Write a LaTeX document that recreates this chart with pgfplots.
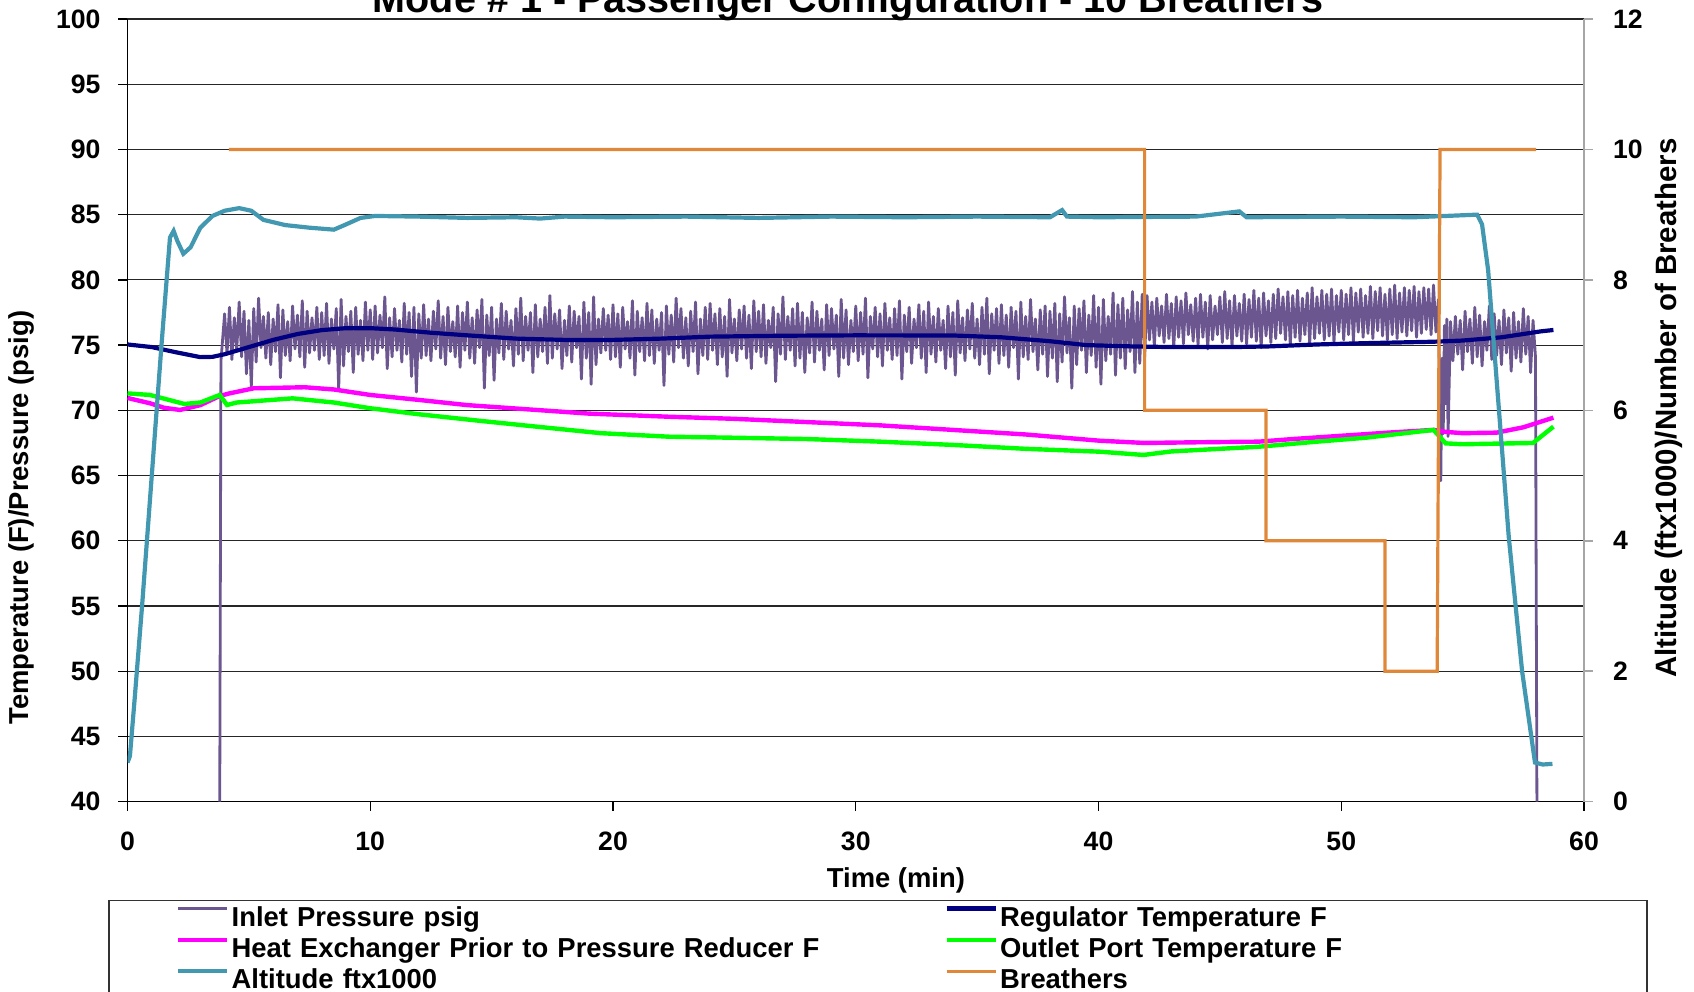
\documentclass[border=0pt]{standalone}
\usepackage{fontspec}
\setmainfont{Liberation Sans}
\usepackage{pgfplots}
\pgfplotsset{compat=1.18}
\usetikzlibrary{calc}

\definecolor{inlet}{RGB}{107,86,144}
\definecolor{regul}{RGB}{0,0,128}
\definecolor{heatx}{RGB}{255,0,255}
\definecolor{outlet}{RGB}{0,255,0}
\definecolor{alti}{RGB}{66,152,176}
\definecolor{breath}{RGB}{224,136,58}

\newcommand{\tickfont}{\fontsize{13.3}{15}\selectfont\bfseries}
\newcommand{\labfont}{\fontsize{13.7}{15}\selectfont\bfseries}

\pgfplotsset{
  every axis/.append style={
    scale only axis, width=728.25pt, height=391.35pt,
    xmin=0, xmax=60,
    tick align=outside, major tick length=4.5pt,
    ticklabel style={font=\tickfont},
    label style={font=\labfont},
    /pgf/number format/assume math mode=true,
  },
  legend image code/.code={\draw[#1] (0pt,4.5pt) -- (24.5pt,4.5pt);},
}

\begin{document}
\begin{tikzpicture}
\begin{axis}[
  axis x line*=bottom, axis y line*=left,
  axis line style={black, line width=0.7pt, -},
  tick style={black, line width=0.7pt},
  ymin=40, ymax=100, ytick={40,45,...,100},
  xtick={0,10,...,60},
  yticklabel style={xshift=-5.5pt},
  xticklabel style={yshift=-7pt},
  ymajorgrids, major grid style={black!85, line width=0.6pt},
  xlabel={Time (min)},
  ylabel={Temperature (F)/Pressure (psig)},
  xlabel style={at={(axis description cs:0.5276,-0.1005)}, anchor=center},
  ylabel style={at={(axis description cs:-0.0725,0.363)}, anchor=center},
  legend columns=2,
  legend cell align=left,
  legend style={at={(axis description cs:0.0332,-0.1328)}, anchor=north west,
    draw=none, fill=none, inner sep=0pt, row sep=4.2pt,
    font=\fontsize{13.7}{16}\selectfont\bfseries,
    nodes={inner sep=0pt, text width=356.5pt, align=left, text height=10pt, text depth=1.5pt},
    /tikz/every odd column/.append style={column sep=1pt}},
]
\coordinate (bl) at (rel axis cs:0,0);
\coordinate (tr) at (rel axis cs:1,1);

% Inlet Pressure psig
\addplot[inlet, line width=1.4pt, line join=round] coordinates {
(3.8,40)(3.85,73.8)
(4.0,77.4)(4.1,74.3)(4.2,77.9)(4.3,73.9)(4.4,77.1)(4.5,74.6)(4.6,78.3)(4.7,74.1)(4.8,77.6)(4.9,72.8)
(5.0,76.9)(5.1,71.8)(5.2,77.8)(5.3,73.7)(5.4,78.6)(5.5,74.8)(5.6,77.2)(5.7,74.0)(5.8,77.5)(5.9,73.5)
(6.0,77.0)(6.1,74.5)(6.2,78.1)(6.3,72.5)(6.4,77.7)(6.5,74.2)(6.6,76.8)(6.7,73.8)(6.8,78.0)(6.9,74.7)
(7.0,77.3)(7.1,74.1)(7.2,78.4)(7.3,73.3)(7.4,77.6)(7.5,74.4)(7.6,77.1)(7.7,74.6)(7.8,77.9)(7.9,73.9)
(8.0,77.5)(8.1,74.2)(8.2,78.2)(8.3,73.6)(8.4,77.0)(8.5,74.7)(8.6,77.8)(8.7,71.6)(8.8,78.5)(8.9,73.4)
(9.0,77.2)(9.1,74.5)(9.2,77.6)(9.3,72.9)(9.4,77.9)(9.5,74.3)(9.6,76.9)(9.7,73.8)(9.8,78.3)(9.9,74.6)
(10.0,77.7)(10.1,73.9)(10.2,78.0)(10.3,74.4)(10.4,77.3)(10.5,74.8)(10.6,78.7)(10.7,73.2)(10.8,77.1)(10.9,74.1)
(11.0,77.8)(11.1,74.6)(11.2,76.9)(11.3,73.7)(11.4,78.2)(11.5,74.3)(11.6,77.5)(11.7,72.6)(11.8,77.9)(11.9,71.4)
(12.0,77.4)(12.1,74.0)(12.2,78.1)(12.3,74.2)(12.4,77.0)(12.5,73.8)(12.6,77.6)(12.7,74.7)(12.8,78.4)(12.9,74.0)
(13.0,77.2)(13.1,73.5)(13.2,77.9)(13.3,74.5)(13.4,76.8)(13.5,74.1)(13.6,78.0)(13.7,73.3)(13.8,77.5)(13.9,74.6)
(14.0,78.3)(14.1,74.0)(14.2,77.1)(14.3,73.6)(14.4,77.7)(14.5,74.8)(14.6,78.5)(14.7,71.7)(14.8,77.3)(14.9,74.2)
(15.0,77.9)(15.1,72.3)(15.2,77.0)(15.3,74.4)(15.4,78.2)(15.5,73.9)(15.6,77.6)(15.7,74.7)(15.8,76.9)(15.9,73.4)
(16.0,77.8)(16.1,74.3)(16.2,78.6)(16.3,73.8)(16.4,77.2)(16.5,74.6)(16.6,77.5)(16.7,72.9)(16.8,78.1)(16.9,74.1)
(17.0,77.0)(17.1,74.5)(17.2,77.9)(17.3,73.6)(17.4,78.8)(17.5,74.0)(17.6,77.4)(17.7,74.7)(17.8,77.7)(17.9,73.2)
(18.0,76.9)(18.1,74.2)(18.2,78.0)(18.3,73.7)(18.4,77.6)(18.5,74.8)(18.6,77.2)(18.7,72.4)(18.8,78.3)(18.9,74.0)
(19.0,77.5)(19.1,72.0)(19.2,78.7)(19.3,73.5)(19.4,77.0)(19.5,74.4)(19.6,77.8)(19.7,74.6)(19.8,77.3)(19.9,73.9)
(20.0,78.1)(20.1,74.1)(20.2,77.4)(20.3,73.3)(20.4,77.9)(20.5,74.7)(20.6,76.8)(20.7,74.0)(20.8,78.4)(20.9,72.7)
(21.0,77.6)(21.1,74.5)(21.2,77.1)(21.3,73.8)(21.4,78.2)(21.5,74.2)(21.6,77.7)(21.7,73.6)(21.8,77.0)(21.9,74.6)
(22.0,77.5)(22.1,71.9)(22.2,78.0)(22.3,74.3)(22.4,77.3)(22.5,73.7)(22.6,78.6)(22.7,74.8)(22.8,77.8)(22.9,74.0)
(23.0,77.1)(23.1,73.4)(23.2,77.6)(23.3,74.5)(23.4,78.3)(23.5,72.8)(23.6,77.0)(23.7,74.2)(23.8,77.9)(23.9,73.9)
(24.0,78.2)(24.1,74.6)(24.2,77.4)(24.3,73.5)(24.4,77.8)(24.5,74.1)(24.6,77.2)(24.7,72.6)(24.8,78.5)(24.9,74.4)
(25.0,77.0)(25.1,73.8)(25.2,77.7)(25.3,74.7)(25.4,78.0)(25.5,74.0)(25.6,77.3)(25.7,73.2)(25.8,78.4)(25.9,74.5)
(26.0,77.6)(26.1,74.1)(26.2,78.1)(26.3,73.6)(26.4,76.9)(26.5,74.8)(26.6,77.9)(26.7,72.2)(26.8,77.4)(26.9,74.3)
(27.0,78.7)(27.1,73.9)(27.2,77.2)(27.3,74.6)(27.4,77.8)(27.5,73.4)(27.6,78.2)(27.7,74.0)(27.8,77.5)(27.9,72.9)
(28.0,77.1)(28.1,74.4)(28.2,78.3)(28.3,73.7)(28.4,77.6)(28.5,74.6)(28.6,77.0)(28.7,73.1)(28.8,78.1)(28.9,74.2)
(29.0,77.8)(29.1,74.7)(29.2,77.3)(29.3,72.6)(29.4,78.5)(29.5,74.0)(29.6,77.7)(29.7,73.5)(29.8,76.9)(29.9,74.5)
(30.0,78.0)(30.1,73.8)(30.2,77.5)(30.3,74.3)(30.4,78.6)(30.5,72.5)(30.6,77.2)(30.7,74.7)(30.8,77.9)(30.9,74.1)
(31.0,77.4)(31.1,73.4)(31.2,78.2)(31.3,74.6)(31.4,77.1)(31.5,73.9)(31.6,77.8)(31.7,74.2)(31.8,78.4)(31.9,72.4)
(32.0,77.3)(32.1,74.5)(32.2,77.9)(32.3,73.6)(32.4,77.0)(32.5,74.8)(32.6,78.1)(32.7,74.0)(32.8,77.6)(32.9,72.9)
(33.0,78.3)(33.1,74.3)(33.2,77.2)(33.3,73.7)(33.4,77.8)(33.5,74.6)(33.6,76.9)(33.7,73.2)(33.8,78.0)(33.9,74.1)
(34.0,77.5)(34.1,72.7)(34.2,78.4)(34.3,74.4)(34.4,77.1)(34.5,73.8)(34.6,77.7)(34.7,74.7)(34.8,78.2)(34.9,74.0)
(35.0,77.0)(35.1,73.5)(35.2,77.9)(35.3,74.3)(35.4,78.6)(35.5,72.8)(35.6,77.4)(35.7,74.6)(35.8,77.8)(35.9,73.6)
(36.0,78.1)(36.1,74.2)(36.2,77.3)(36.3,73.3)(36.4,77.9)(36.5,74.8)(36.6,77.6)(36.7,72.4)(36.8,78.3)(36.9,74.1)
(37.0,77.2)(37.1,73.9)(37.2,78.5)(37.3,74.5)(37.4,77.0)(37.5,73.1)(37.6,77.7)(37.7,74.3)(37.8,78.0)(37.9,72.6)
(38.0,77.6)(38.1,74.0)(38.2,78.2)(38.3,72.2)(38.4,77.4)(38.5,73.7)(38.6,78.7)(38.7,74.4)(38.8,77.1)(38.9,71.7)
(39.0,78.0)(39.1,73.5)(39.2,77.8)(39.3,74.6)(39.4,78.4)(39.5,72.9)(39.6,77.3)(39.7,74.2)(39.8,78.8)(39.9,73.3)
(40.0,77.9)(40.1,72.0)(40.2,78.5)(40.3,73.8)(40.4,77.2)(40.5,74.3)(40.6,79.0)(40.7,72.7)(40.8,78.1)(40.9,74.0)
(41.0,78.6)(41.1,73.2)(41.2,77.7)(41.3,74.5)(41.4,79.1)(41.5,72.9)(41.6,78.3)(41.7,73.6)(41.8,78.9)(41.9,74.1)
(42.0,78.8)(42.1,75.4)(42.2,78.3)(42.3,74.9)(42.4,78.6)(42.5,75.7)(42.6,78.0)(42.7,75.2)(42.8,78.9)(42.9,75.5)
(43.0,78.2)(43.1,74.8)(43.2,78.7)(43.3,75.6)(43.4,78.4)(43.5,75.1)(43.6,79.0)(43.7,75.8)(43.8,78.1)(43.9,75.3)
(44.0,78.6)(44.1,75.0)(44.2,78.9)(44.3,75.6)(44.4,78.3)(44.5,74.7)(44.6,78.8)(44.7,75.4)(44.8,78.0)(44.9,75.8)
(45.0,78.7)(45.1,75.2)(45.2,79.1)(45.3,75.5)(45.4,78.4)(45.5,74.9)(45.6,78.8)(45.7,75.7)(45.8,78.2)(45.9,75.3)
(46.0,78.9)(46.1,75.1)(46.2,78.5)(46.3,75.6)(46.4,79.2)(46.5,75.3)(46.6,78.6)(46.7,74.8)(46.8,79.0)(46.9,75.7)
(47.0,78.4)(47.1,75.2)(47.2,78.9)(47.3,75.5)(47.4,79.3)(47.5,75.9)(47.6,78.7)(47.7,75.4)(47.8,79.1)(47.9,75.0)
(48.0,78.8)(48.1,75.6)(48.2,79.2)(48.3,75.3)(48.4,78.6)(48.5,75.8)(48.6,79.0)(48.7,75.1)(48.8,79.4)(48.9,75.5)
(49.0,78.7)(49.1,75.9)(49.2,79.2)(49.3,75.4)(49.4,78.9)(49.5,75.7)(49.6,79.3)(49.7,75.2)(49.8,78.8)(49.9,76.0)
(50.0,79.2)(50.1,75.4)(50.2,78.9)(50.3,75.8)(50.4,79.4)(50.5,75.3)(50.6,79.0)(50.7,76.0)(50.8,79.3)(50.9,75.6)
(51.0,78.8)(51.1,75.9)(51.2,79.5)(51.3,75.5)(51.4,79.1)(51.5,76.1)(51.6,79.4)(51.7,75.7)(51.8,78.9)(51.9,75.4)
(52.0,79.3)(52.1,75.8)(52.2,79.6)(52.3,75.5)(52.4,79.0)(52.5,76.0)(52.6,79.4)(52.7,75.7)(52.8,79.2)(52.9,76.1)
(53.0,79.5)(53.1,75.6)(53.2,79.1)(53.3,75.9)(53.4,79.4)(53.5,76.2)(53.6,79.3)(53.7,75.8)(53.8,79.6)(53.9,76.0)
(54.0,78.5)(54.1,64.6)(54.15,74.0)(54.2,68.2)(54.25,76.5)(54.3,70.5)(54.35,77.0)(54.4,68.0)(54.5,76.8)
(54.6,73.8)(54.7,77.2)(54.8,74.3)(54.9,76.9)(55.0,73.1)(55.1,77.6)(55.2,74.5)(55.3,77.0)(55.4,73.6)(55.5,77.9)
(55.6,74.1)(55.7,77.3)(55.8,73.4)(55.9,76.8)(56.0,74.6)(56.1,78.0)(56.2,73.9)(56.3,77.4)(56.4,74.2)(56.5,76.9)
(56.6,73.5)(56.7,77.7)(56.8,74.4)(56.9,77.1)(57.0,73.0)(57.1,77.5)(57.2,74.0)(57.3,76.8)(57.4,73.7)(57.5,77.8)
(57.6,74.3)(57.7,77.2)(57.8,72.9)(57.9,76.9)(58.0,74.1)
(58.06,40)
};
\addlegendentry{Inlet Pressure psig}

% Regulator Temperature F
\addplot[regul, line width=2.1pt] coordinates {
(0,75.05)(1,74.85)(2,74.45)(3,74.08)(3.5,74.1)(4,74.3)(5,74.85)(6,75.4)(7,75.85)(8,76.15)
(9,76.3)(10,76.3)(11,76.2)(12.5,75.95)(14,75.75)(16,75.5)(18,75.4)(20,75.4)(22,75.5)(24,75.65)
(27,75.72)(30,75.75)(34,75.74)(36,75.6)(38,75.3)(39.5,75.0)(41.4,74.9)(43,74.85)(45.5,74.85)
(47,74.9)(49,75.05)(51,75.15)(53.8,75.26)(55,75.35)(56.6,75.6)(57.5,75.85)(58.2,76.05)(58.74,76.16)
};
\addlegendentry{Regulator Temperature F}

% Heat Exchanger Prior to Pressure Reducer F
\addplot[heatx, line width=2.2pt] coordinates {
(0,70.95)(0.93,70.54)(1.5,70.2)(2.16,70.03)(3.0,70.4)(3.8,71.1)(4.2,71.3)(5.2,71.69)(7.3,71.77)
(8.5,71.6)(10,71.18)(12,70.8)(14,70.4)(16.85,70.03)(19,69.75)(22.3,69.51)(25,69.35)(28,69.1)
(31,68.85)(34,68.5)(37,68.15)(40.06,67.67)(41.9,67.5)(44,67.55)(46.6,67.6)(48,67.8)(50,68.05)
(52,68.3)(53.8,68.5)(54.3,68.35)(55,68.25)(56.4,68.29)(57.5,68.7)(58.74,69.44)
};
\addlegendentry{Heat Exchanger Prior to Pressure Reducer F}

% Outlet Port Temperature F
\addplot[outlet, line width=2.2pt] coordinates {
(0,71.3)(0.93,71.18)(1.5,70.9)(2.34,70.49)(3.0,70.6)(3.8,71.18)(4.1,70.41)(4.5,70.6)(6.8,70.92)
(8.5,70.6)(10,70.16)(12,69.7)(14.5,69.2)(16.85,68.75)(19.5,68.25)(22.3,67.98)(25,67.9)(28,67.8)
(31,67.6)(34,67.35)(37,67.05)(40.06,66.83)(41.85,66.58)(43,66.85)(46.6,67.21)(49,67.6)(51,67.9)
(53.8,68.5)(54.3,67.47)(55,67.4)(57.9,67.5)(58.3,68.1)(58.74,68.75)
};
\addlegendentry{Outlet Port Temperature F}

\addlegendimage{alti, line width=2.1pt}
\addlegendentry{Altitude ftx1000}
\addlegendimage{breath, line width=1.6pt}
\addlegendentry{Breathers}
\end{axis}

\begin{axis}[
  axis y line*=right, axis x line=none,
  axis line style={black!35, line width=0.8pt, -},
  tick style={black!35, line width=0.8pt},
  ymin=0, ymax=12, ytick={0,2,...,12},
  yticklabel style={xshift=6.5pt},
  ylabel={Altitude (ftx1000)/Number of Breathers},
  ylabel style={at={(axis description cs:1.058,0.503)}, anchor=center,
    font=\fontsize{14.7}{16}\selectfont\bfseries},
]
% Altitude ftx1000
\addplot[alti, line width=2.1pt] coordinates {
(0,0.6)(0.1,0.7)(0.3,1.6)(0.6,3.0)(1.0,5.0)(1.4,7.0)(1.75,8.65)(1.9,8.75)(2.05,8.6)(2.3,8.4)
(2.6,8.5)(3.0,8.8)(3.5,8.98)(4.0,9.06)(4.6,9.1)(5.1,9.06)(5.6,8.92)(6.5,8.84)(7.5,8.8)(8.5,8.77)
(9.0,8.85)(9.6,8.95)(10.2,8.98)(12,8.97)(14,8.95)(16,8.96)(17,8.94)(18,8.97)(20,8.96)(23,8.97)
(26,8.95)(29,8.97)(32,8.96)(35,8.97)(38,8.96)(38.5,9.07)(38.7,8.97)(40,8.96)(44,8.97)(45.8,9.05)
(46.1,8.96)(50,8.97)(53,8.96)(55.6,9.0)(55.8,8.85)(56.05,8.15)(56.9,4.06)(57.45,2.0)(57.98,0.6)
(58.3,0.57)(58.7,0.58)
};
% Breathers
\addplot[breath, line width=1.6pt] coordinates {
(4.18,10)(41.9,10)(41.9,6)(46.9,6)(46.9,4)(51.8,4)(51.8,2)(53.95,2)(54.07,10)(58.03,10)
};
\end{axis}

\node[anchor=base, font=\fontsize{19.8}{22}\selectfont\bfseries]
  at ([yshift=3pt]$(bl|-tr)!0.4947!(tr)$) {Mode \# 1 - Passenger Configuration - 10 Breathers};
\draw[black!80, line width=0.6pt]
  ([xshift=-9.25pt,yshift=-49.25pt]bl) -- ([xshift=-9.25pt,yshift=-120pt]bl)
  ([xshift=-9.25pt,yshift=-49.25pt]bl) -| ([xshift=31.5pt,yshift=-120pt]bl-|tr);

\pgfresetboundingbox
\useasboundingbox ([xshift=-63.75pt,yshift=-95.15pt]bl) rectangle ([xshift=55pt,yshift=9.5pt]tr);
\end{tikzpicture}
\end{document}
